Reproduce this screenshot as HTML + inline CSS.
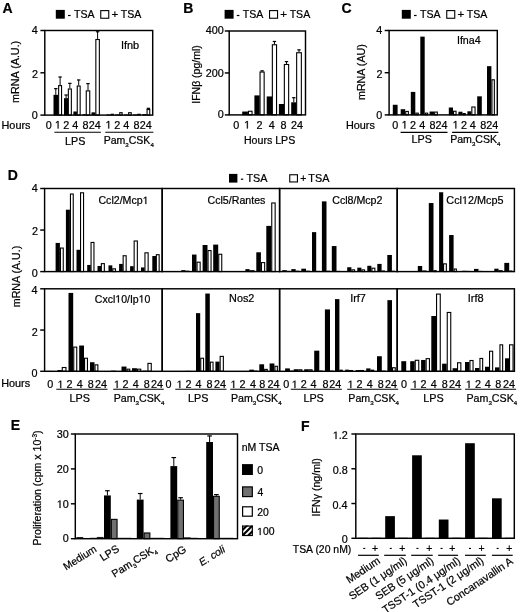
<!DOCTYPE html>
<html><head><meta charset="utf-8"><style>
html,body{margin:0;padding:0;background:#fff;width:520px;height:612px;overflow:hidden}
svg{display:block;will-change:transform}
text{font-family:"Liberation Sans",sans-serif;fill:#000;stroke:#000;stroke-width:0.22px}
</style></head><body>
<svg xmlns="http://www.w3.org/2000/svg" width="520" height="612" viewBox="0 0 520 612">
<rect x="0" y="0" width="520" height="612" fill="#fff"/>
<text x="2.6" y="12.6" font-size="14" text-anchor="start" font-weight="bold" font-style="normal">A</text>
<rect x="55.8" y="9.9" width="9" height="8.8" fill="#000"/>
<rect x="68" y="14.9" width="2.6" height="1.2" fill="#000"/>
<text x="73.96" y="18.2" font-size="10.57" text-anchor="start" font-weight="normal" font-style="normal">TSA</text>
<rect x="100.75" y="10.6" width="8" height="7.65" fill="#fff" stroke="#000" stroke-width="1.1"/>
<text x="111.54" y="18.2" font-size="11.53" text-anchor="start" font-weight="normal" font-style="normal">+</text>
<text x="120.86" y="18.2" font-size="10.57" text-anchor="start" font-weight="normal" font-style="normal">TSA</text>
<rect x="53.5" y="94.8" width="4.6" height="20.6" fill="#000"/>
<line x1="55.8" y1="94.8" x2="55.8" y2="88.45" stroke="#000" stroke-width="1"/>
<line x1="54.1" y1="88.65" x2="57.5" y2="88.65" stroke="#000" stroke-width="1.2"/>
<rect x="58.65" y="85.62" width="2.9" height="29.43" fill="#fff" stroke="#000" stroke-width="1.1"/>
<line x1="60.1" y1="85.07" x2="60.1" y2="76.82" stroke="#000" stroke-width="1"/>
<line x1="58.4" y1="77.02" x2="61.8" y2="77.02" stroke="#000" stroke-width="1.2"/>
<rect x="64" y="98.18" width="4.2" height="17.22" fill="#000"/>
<line x1="66.1" y1="98.18" x2="66.1" y2="94.8" stroke="#000" stroke-width="1"/>
<line x1="64.4" y1="95" x2="67.8" y2="95" stroke="#000" stroke-width="1.2"/>
<rect x="68.35" y="89" width="3" height="26.05" fill="#fff" stroke="#000" stroke-width="1.1"/>
<line x1="69.85" y1="88.45" x2="69.85" y2="83.16" stroke="#000" stroke-width="1"/>
<line x1="68.15" y1="83.36" x2="71.55" y2="83.36" stroke="#000" stroke-width="1.2"/>
<rect x="73.4" y="111.5" width="3.5" height="3.9" fill="#000"/>
<rect x="77.25" y="86.04" width="2.9" height="29.01" fill="#fff" stroke="#000" stroke-width="1.1"/>
<line x1="78.7" y1="85.49" x2="78.7" y2="79.78" stroke="#000" stroke-width="1"/>
<line x1="77" y1="79.98" x2="80.4" y2="79.98" stroke="#000" stroke-width="1.2"/>
<rect x="82.5" y="114.25" width="3.3" height="1.15" fill="#000"/>
<rect x="86.25" y="90.9" width="3.5" height="24.15" fill="#fff" stroke="#000" stroke-width="1.1"/>
<line x1="88" y1="90.35" x2="88" y2="83.38" stroke="#000" stroke-width="1"/>
<line x1="86.3" y1="83.58" x2="89.7" y2="83.58" stroke="#000" stroke-width="1.2"/>
<rect x="91.5" y="112.35" width="3.8" height="3.05" fill="#000"/>
<rect x="95.85" y="39.51" width="3.5" height="75.54" fill="#fff" stroke="#000" stroke-width="1.1"/>
<line x1="97.6" y1="38.96" x2="97.6" y2="31.56" stroke="#000" stroke-width="1"/>
<line x1="95.9" y1="31.76" x2="99.3" y2="31.76" stroke="#000" stroke-width="1.2"/>
<rect x="106.5" y="114.47" width="4.3" height="0.93" fill="#000"/>
<rect x="110.8" y="113.74" width="3.2" height="1.66" fill="#000"/>
<rect x="115.2" y="114.47" width="4" height="0.93" fill="#000"/>
<rect x="119.75" y="112.69" width="2.4" height="2.36" fill="#fff" stroke="#000" stroke-width="1.1"/>
<rect x="124" y="114.47" width="4.1" height="0.93" fill="#000"/>
<rect x="128.65" y="112.69" width="2.6" height="2.36" fill="#fff" stroke="#000" stroke-width="1.1"/>
<rect x="133" y="114.47" width="4.2" height="0.93" fill="#000"/>
<rect x="137.2" y="113.74" width="3.6" height="1.66" fill="#000"/>
<rect x="142.4" y="114.04" width="4.1" height="1.36" fill="#000"/>
<rect x="147.05" y="109.52" width="2.7" height="5.53" fill="#fff" stroke="#000" stroke-width="1.1"/>
<line x1="148.4" y1="108.97" x2="148.4" y2="108.12" stroke="#000" stroke-width="1"/>
<line x1="146.7" y1="108.32" x2="150.1" y2="108.32" stroke="#000" stroke-width="1.2"/>
<rect x="44.8" y="30.5" width="107.9" height="84.6" fill="none" stroke="#000" stroke-width="1.45"/>
<line x1="40.4" y1="30.5" x2="44.8" y2="30.5" stroke="#000" stroke-width="1.45"/>
<text x="31.71" y="34.08" font-size="10.8" text-anchor="start" font-weight="normal" font-style="normal">4</text>
<line x1="40.4" y1="72.8" x2="44.8" y2="72.8" stroke="#000" stroke-width="1.45"/>
<text x="31.94" y="77.78" font-size="10.8" text-anchor="start" font-weight="normal" font-style="normal">2</text>
<line x1="40.4" y1="115.1" x2="44.8" y2="115.1" stroke="#000" stroke-width="1.45"/>
<text x="31.82" y="118.78" font-size="10.8" text-anchor="start" font-weight="normal" font-style="normal">0</text>
<text x="19.5" y="102.91" font-size="10.76" transform="rotate(-90 19.5 102.91)">mRNA (A.U.)</text>
<text x="1.51" y="128.8" font-size="10.87" text-anchor="start" font-weight="normal" font-style="normal">Hours</text>
<text x="45.8" y="128.5" font-size="10.8" text-anchor="start" font-weight="normal" font-style="normal">0</text>
<path d="M57.61 128.5 L57.61 121.98 L55.93 123.17 L55.93 122.28 L57.69 121.07 L58.57 121.07 L58.57 128.5 Z" fill="#000" stroke="#000" stroke-width="0.22"/>
<text x="63.3" y="128.5" font-size="10.8" text-anchor="start" font-weight="normal" font-style="normal">2</text>
<text x="72.18" y="128.5" font-size="10.8" text-anchor="start" font-weight="normal" font-style="normal">4</text>
<text x="82.6" y="128.5" font-size="10.8" text-anchor="start" font-weight="normal" font-style="normal">8</text>
<text x="88.63" y="128.5" font-size="10.8" text-anchor="start" font-weight="normal" font-style="normal">24</text>
<path d="M108.26 128.5 L108.26 121.98 L106.58 123.17 L106.58 122.28 L108.34 121.07 L109.22 121.07 L109.22 128.5 Z" fill="#000" stroke="#000" stroke-width="0.22"/>
<text x="114.2" y="128.5" font-size="10.8" text-anchor="start" font-weight="normal" font-style="normal">2</text>
<text x="123.33" y="128.5" font-size="10.8" text-anchor="start" font-weight="normal" font-style="normal">4</text>
<text x="133.4" y="128.5" font-size="10.8" text-anchor="start" font-weight="normal" font-style="normal">8</text>
<text x="139.78" y="128.5" font-size="10.8" text-anchor="start" font-weight="normal" font-style="normal">24</text>
<line x1="54.4" y1="132.3" x2="100.9" y2="132.3" stroke="#000" stroke-width="1.1"/>
<line x1="105.3" y1="132.3" x2="153.4" y2="132.3" stroke="#000" stroke-width="1.1"/>
<text x="65.02" y="144.5" font-size="10.78" text-anchor="start" font-weight="normal" font-style="normal">LPS</text>
<text x="103.74" y="144.1" font-size="10.52" text-anchor="start"><tspan>Pam</tspan><tspan font-size="6.1" dy="2.9">3</tspan><tspan dy="-2.9">CSK</tspan><tspan font-size="6.1" dy="2.9">4</tspan></text>
<text x="120.89" y="49.3" font-size="10.95" text-anchor="start" font-weight="normal" font-style="normal">Ifnb</text>
<text x="183.2" y="12.6" font-size="14" text-anchor="start" font-weight="bold" font-style="normal">B</text>
<rect x="224.6" y="9.9" width="9" height="8.8" fill="#000"/>
<rect x="236.8" y="14.9" width="2.6" height="1.2" fill="#000"/>
<text x="242.76" y="18.2" font-size="10.57" text-anchor="start" font-weight="normal" font-style="normal">TSA</text>
<rect x="269.55" y="10.6" width="8" height="7.65" fill="#fff" stroke="#000" stroke-width="1.1"/>
<text x="280.34" y="18.2" font-size="11.53" text-anchor="start" font-weight="normal" font-style="normal">+</text>
<text x="289.66" y="18.2" font-size="10.57" text-anchor="start" font-weight="normal" font-style="normal">TSA</text>
<rect x="242.2" y="111.54" width="5.7" height="3.66" fill="#000"/>
<rect x="248.45" y="111.26" width="3.6" height="3.59" fill="#fff" stroke="#000" stroke-width="1.1"/>
<rect x="254.4" y="95.39" width="5.3" height="19.81" fill="#000"/>
<rect x="260.05" y="72.03" width="4.1" height="42.82" fill="#fff" stroke="#000" stroke-width="1.1"/>
<line x1="262.1" y1="71.48" x2="262.1" y2="70.64" stroke="#000" stroke-width="1"/>
<line x1="260.4" y1="70.84" x2="263.8" y2="70.84" stroke="#000" stroke-width="1.2"/>
<rect x="266.7" y="96.44" width="5.5" height="18.76" fill="#000"/>
<rect x="272.35" y="44.76" width="4.2" height="70.09" fill="#fff" stroke="#000" stroke-width="1.1"/>
<line x1="274.45" y1="44.21" x2="274.45" y2="41.28" stroke="#000" stroke-width="1"/>
<line x1="272.75" y1="41.48" x2="276.15" y2="41.48" stroke="#000" stroke-width="1.2"/>
<rect x="278.9" y="103.99" width="5.2" height="11.21" fill="#000"/>
<rect x="284.35" y="64.48" width="4.3" height="50.37" fill="#fff" stroke="#000" stroke-width="1.1"/>
<line x1="286.5" y1="63.93" x2="286.5" y2="61.41" stroke="#000" stroke-width="1"/>
<line x1="284.8" y1="61.61" x2="288.2" y2="61.61" stroke="#000" stroke-width="1.2"/>
<rect x="291.2" y="102.31" width="5.2" height="12.89" fill="#000"/>
<line x1="293.8" y1="102.31" x2="293.8" y2="97.49" stroke="#000" stroke-width="1"/>
<line x1="292.1" y1="97.69" x2="295.5" y2="97.69" stroke="#000" stroke-width="1.2"/>
<rect x="296.65" y="52.73" width="4.7" height="62.12" fill="#fff" stroke="#000" stroke-width="1.1"/>
<line x1="299" y1="52.18" x2="299" y2="49.67" stroke="#000" stroke-width="1"/>
<line x1="297.3" y1="49.87" x2="300.7" y2="49.87" stroke="#000" stroke-width="1.2"/>
<rect x="229.2" y="31" width="76.3" height="83.9" fill="none" stroke="#000" stroke-width="1.45"/>
<line x1="224.8" y1="31" x2="229.2" y2="31" stroke="#000" stroke-width="1.45"/>
<text x="205.8" y="34.08" font-size="10.8" text-anchor="start" font-weight="normal" font-style="normal">400</text>
<line x1="224.8" y1="72.95" x2="229.2" y2="72.95" stroke="#000" stroke-width="1.45"/>
<text x="205.8" y="77.08" font-size="10.8" text-anchor="start" font-weight="normal" font-style="normal">200</text>
<line x1="224.8" y1="114.9" x2="229.2" y2="114.9" stroke="#000" stroke-width="1.45"/>
<text x="217.82" y="118.48" font-size="10.8" text-anchor="start" font-weight="normal" font-style="normal">0</text>
<text x="200" y="103.77" font-size="10.5" transform="rotate(-90 200 103.77)">IFN&#946; (pg/ml)</text>
<text x="233.2" y="128.5" font-size="10.8" text-anchor="start" font-weight="normal" font-style="normal">0</text>
<path d="M246.86 128.5 L246.86 121.98 L245.18 123.17 L245.18 122.28 L246.94 121.07 L247.82 121.07 L247.82 128.5 Z" fill="#000" stroke="#000" stroke-width="0.22"/>
<text x="256.4" y="128.5" font-size="10.8" text-anchor="start" font-weight="normal" font-style="normal">2</text>
<text x="268.73" y="128.5" font-size="10.8" text-anchor="start" font-weight="normal" font-style="normal">4</text>
<text x="280.6" y="128.5" font-size="10.8" text-anchor="start" font-weight="normal" font-style="normal">8</text>
<text x="290.98" y="128.5" font-size="10.8" text-anchor="start" font-weight="normal" font-style="normal">24</text>
<text x="243.93" y="143.5" font-size="10.62" text-anchor="start" font-weight="normal" font-style="normal">Hours LPS</text>
<text x="341.6" y="12.6" font-size="14" text-anchor="start" font-weight="bold" font-style="normal">C</text>
<rect x="401.8" y="9.9" width="9" height="8.8" fill="#000"/>
<rect x="414" y="14.9" width="2.6" height="1.2" fill="#000"/>
<text x="419.96" y="18.2" font-size="10.57" text-anchor="start" font-weight="normal" font-style="normal">TSA</text>
<rect x="446.75" y="10.6" width="8" height="7.65" fill="#fff" stroke="#000" stroke-width="1.1"/>
<text x="457.54" y="18.2" font-size="11.53" text-anchor="start" font-weight="normal" font-style="normal">+</text>
<text x="466.86" y="18.2" font-size="10.57" text-anchor="start" font-weight="normal" font-style="normal">TSA</text>
<rect x="392.8" y="104.77" width="4.8" height="10.43" fill="#000"/>
<rect x="400.7" y="109.2" width="4.5" height="6" fill="#000"/>
<rect x="405.75" y="111.44" width="2.6" height="3.41" fill="#fff" stroke="#000" stroke-width="1.1"/>
<rect x="410.8" y="91.9" width="4.5" height="23.3" fill="#000"/>
<rect x="415.85" y="113.13" width="2.4" height="1.72" fill="#fff" stroke="#000" stroke-width="1.1"/>
<rect x="420.3" y="36.62" width="4.4" height="78.58" fill="#000"/>
<rect x="425.25" y="113.13" width="2.4" height="1.72" fill="#fff" stroke="#000" stroke-width="1.1"/>
<rect x="429.6" y="111.52" width="4.5" height="3.68" fill="#000"/>
<rect x="434.65" y="112.07" width="2.7" height="2.78" fill="#fff" stroke="#000" stroke-width="1.1"/>
<rect x="448.8" y="107.52" width="4.2" height="7.69" fill="#000"/>
<rect x="453.55" y="111.23" width="2.5" height="3.62" fill="#fff" stroke="#000" stroke-width="1.1"/>
<rect x="458.4" y="111.73" width="4.1" height="3.47" fill="#000"/>
<rect x="463.05" y="113.55" width="2.2" height="1.3" fill="#fff" stroke="#000" stroke-width="1.1"/>
<rect x="467.4" y="111.31" width="3.9" height="3.89" fill="#000"/>
<rect x="471.85" y="107.01" width="3.2" height="7.84" fill="#fff" stroke="#000" stroke-width="1.1"/>
<rect x="477.2" y="96.33" width="4.6" height="18.87" fill="#000"/>
<rect x="487" y="66.16" width="4.4" height="49.04" fill="#000"/>
<rect x="491.95" y="79.79" width="2.4" height="35.06" fill="#fff" stroke="#000" stroke-width="1.1"/>
<rect x="389.1" y="30.5" width="108.2" height="84.4" fill="none" stroke="#000" stroke-width="1.45"/>
<line x1="384.7" y1="30.5" x2="389.1" y2="30.5" stroke="#000" stroke-width="1.45"/>
<text x="376.21" y="34.08" font-size="10.8" text-anchor="start" font-weight="normal" font-style="normal">4</text>
<line x1="384.7" y1="72.7" x2="389.1" y2="72.7" stroke="#000" stroke-width="1.45"/>
<text x="376.44" y="77.58" font-size="10.8" text-anchor="start" font-weight="normal" font-style="normal">2</text>
<line x1="384.7" y1="114.9" x2="389.1" y2="114.9" stroke="#000" stroke-width="1.45"/>
<text x="376.32" y="118.58" font-size="10.8" text-anchor="start" font-weight="normal" font-style="normal">0</text>
<text x="365" y="100.01" font-size="10.7" transform="rotate(-90 365 100.01)">mRNA (AU)</text>
<text x="345.91" y="128.8" font-size="10.87" text-anchor="start" font-weight="normal" font-style="normal">Hours</text>
<text x="392.15" y="128.5" font-size="10.8" text-anchor="start" font-weight="normal" font-style="normal">0</text>
<path d="M404.36 128.5 L404.36 121.98 L402.68 123.17 L402.68 122.28 L404.44 121.07 L405.32 121.07 L405.32 128.5 Z" fill="#000" stroke="#000" stroke-width="0.22"/>
<text x="410.1" y="128.5" font-size="10.8" text-anchor="start" font-weight="normal" font-style="normal">2</text>
<text x="419.23" y="128.5" font-size="10.8" text-anchor="start" font-weight="normal" font-style="normal">4</text>
<text x="429.4" y="128.5" font-size="10.8" text-anchor="start" font-weight="normal" font-style="normal">8</text>
<text x="435.53" y="128.5" font-size="10.8" text-anchor="start" font-weight="normal" font-style="normal">24</text>
<path d="M455.36 128.5 L455.36 121.98 L453.68 123.17 L453.68 122.28 L455.44 121.07 L456.32 121.07 L456.32 128.5 Z" fill="#000" stroke="#000" stroke-width="0.22"/>
<text x="460.9" y="128.5" font-size="10.8" text-anchor="start" font-weight="normal" font-style="normal">2</text>
<text x="469.73" y="128.5" font-size="10.8" text-anchor="start" font-weight="normal" font-style="normal">4</text>
<text x="480.2" y="128.5" font-size="10.8" text-anchor="start" font-weight="normal" font-style="normal">8</text>
<text x="486.18" y="128.5" font-size="10.8" text-anchor="start" font-weight="normal" font-style="normal">24</text>
<line x1="400.6" y1="132.4" x2="447.5" y2="132.4" stroke="#000" stroke-width="1.1"/>
<line x1="452.1" y1="132.4" x2="498.4" y2="132.4" stroke="#000" stroke-width="1.1"/>
<text x="411.62" y="143.2" font-size="10.78" text-anchor="start" font-weight="normal" font-style="normal">LPS</text>
<text x="450.13" y="143.3" font-size="10.58" text-anchor="start"><tspan>Pam</tspan><tspan font-size="6.14" dy="2.9">3</tspan><tspan dy="-2.9">CSK</tspan><tspan font-size="6.14" dy="2.9">4</tspan></text>
<text x="456.91" y="44.1" font-size="10.7" text-anchor="start" font-weight="normal" font-style="normal">Ifna4</text>
<text x="7.7" y="179.7" font-size="14" text-anchor="start" font-weight="bold" font-style="normal">D</text>
<rect x="229" y="173.9" width="8.4" height="8.7" fill="#000"/>
<rect x="240.9" y="178.6" width="2.3" height="1.2" fill="#000"/>
<text x="246.46" y="181.9" font-size="10.83" text-anchor="start" font-weight="normal" font-style="normal">TSA</text>
<rect x="289.75" y="174.75" width="7.7" height="7.2" fill="#fff" stroke="#000" stroke-width="1.1"/>
<text x="300.29" y="181.9" font-size="10.5" text-anchor="start" font-weight="normal" font-style="normal">+</text>
<text x="308.36" y="181.9" font-size="10.83" text-anchor="start" font-weight="normal" font-style="normal">TSA</text>
<rect x="55.6" y="242.93" width="4.3" height="28.97" fill="#000"/>
<rect x="60.45" y="248.05" width="2.8" height="23.5" fill="#fff" stroke="#000" stroke-width="1.1"/>
<rect x="65.9" y="209.69" width="4" height="62.21" fill="#000"/>
<rect x="70.45" y="194.04" width="2.8" height="77.51" fill="#fff" stroke="#000" stroke-width="1.1"/>
<rect x="76.5" y="249.79" width="3.7" height="22.11" fill="#000"/>
<rect x="80.55" y="192.79" width="3" height="78.76" fill="#fff" stroke="#000" stroke-width="1.1"/>
<rect x="87.2" y="264.95" width="3.6" height="6.95" fill="#000"/>
<rect x="91.05" y="242.44" width="2.9" height="29.11" fill="#fff" stroke="#000" stroke-width="1.1"/>
<rect x="97.5" y="265.99" width="3.5" height="5.91" fill="#000"/>
<rect x="101.35" y="263.63" width="3" height="7.92" fill="#fff" stroke="#000" stroke-width="1.1"/>
<rect x="108.5" y="265.37" width="3.8" height="6.53" fill="#000"/>
<rect x="112.75" y="268.83" width="2.7" height="2.72" fill="#fff" stroke="#000" stroke-width="1.1"/>
<rect x="119.1" y="263.91" width="3.7" height="7.99" fill="#000"/>
<rect x="123.15" y="255.74" width="3" height="15.81" fill="#fff" stroke="#000" stroke-width="1.1"/>
<rect x="130.1" y="266.2" width="3.6" height="5.7" fill="#000"/>
<rect x="134.15" y="240.99" width="3.2" height="30.56" fill="#fff" stroke="#000" stroke-width="1.1"/>
<rect x="141" y="267.45" width="3.6" height="4.45" fill="#000"/>
<rect x="144.95" y="252.83" width="3.2" height="18.72" fill="#fff" stroke="#000" stroke-width="1.1"/>
<rect x="152.3" y="256.02" width="3.7" height="15.88" fill="#000"/>
<rect x="156.35" y="254.7" width="2.8" height="16.85" fill="#fff" stroke="#000" stroke-width="1.1"/>
<rect x="44.6" y="188.5" width="117.6" height="83.1" fill="none" stroke="#000" stroke-width="1.45"/>
<rect x="181.2" y="270.15" width="4.3" height="1.75" fill="#000"/>
<rect x="185.5" y="270.68" width="3.9" height="1.22" fill="#000"/>
<rect x="192" y="254.56" width="4.5" height="17.34" fill="#000"/>
<rect x="197.05" y="262.18" width="3.1" height="9.37" fill="#fff" stroke="#000" stroke-width="1.1"/>
<rect x="202.6" y="245.01" width="4.9" height="26.89" fill="#000"/>
<rect x="208.05" y="250.54" width="3" height="21.01" fill="#fff" stroke="#000" stroke-width="1.1"/>
<rect x="213.2" y="244.59" width="5" height="27.31" fill="#000"/>
<rect x="218.75" y="254.28" width="3" height="17.27" fill="#fff" stroke="#000" stroke-width="1.1"/>
<rect x="245.4" y="269.11" width="4.2" height="2.79" fill="#000"/>
<rect x="250.15" y="270.7" width="3.8" height="0.85" fill="#fff" stroke="#000" stroke-width="1.1"/>
<rect x="256.3" y="252.28" width="4.6" height="19.62" fill="#000"/>
<rect x="261.45" y="262.59" width="3.2" height="8.96" fill="#fff" stroke="#000" stroke-width="1.1"/>
<rect x="266.3" y="225.9" width="4.9" height="46.01" fill="#000"/>
<rect x="271.75" y="202.97" width="3.4" height="68.58" fill="#fff" stroke="#000" stroke-width="1.1"/>
<rect x="162.2" y="188.5" width="117.4" height="83.1" fill="none" stroke="#000" stroke-width="1.45"/>
<rect x="282.2" y="270.15" width="4.6" height="1.75" fill="#000"/>
<rect x="286.8" y="270.88" width="3.7" height="1.02" fill="#000"/>
<rect x="291.3" y="269.11" width="4.4" height="2.79" fill="#000"/>
<rect x="295.7" y="270.68" width="3.8" height="1.22" fill="#000"/>
<rect x="301.3" y="268.69" width="4.7" height="3.21" fill="#000"/>
<rect x="306" y="270.68" width="3.8" height="1.22" fill="#000"/>
<rect x="312" y="232.13" width="4.2" height="39.77" fill="#000"/>
<rect x="316.2" y="270.88" width="3.8" height="1.02" fill="#000"/>
<rect x="321.9" y="201.38" width="4.6" height="70.52" fill="#000"/>
<rect x="326.5" y="270.68" width="3.7" height="1.22" fill="#000"/>
<rect x="331.8" y="246.05" width="4.7" height="25.85" fill="#000"/>
<rect x="336.5" y="270.88" width="3.7" height="1.02" fill="#000"/>
<rect x="347.2" y="267.24" width="4.2" height="4.66" fill="#000"/>
<rect x="351.95" y="269.86" width="2.6" height="1.69" fill="#fff" stroke="#000" stroke-width="1.1"/>
<rect x="357.3" y="267.65" width="4.1" height="4.25" fill="#000"/>
<rect x="361.95" y="269.86" width="2.6" height="1.69" fill="#fff" stroke="#000" stroke-width="1.1"/>
<rect x="367.3" y="265.78" width="4.1" height="6.12" fill="#000"/>
<rect x="371.95" y="268.2" width="2.9" height="3.35" fill="#fff" stroke="#000" stroke-width="1.1"/>
<rect x="377.3" y="263.91" width="4.3" height="7.99" fill="#000"/>
<rect x="381.6" y="270.47" width="3.4" height="1.43" fill="#000"/>
<rect x="387.3" y="254.98" width="4.6" height="16.92" fill="#000"/>
<rect x="391.9" y="270.68" width="3.1" height="1.22" fill="#000"/>
<rect x="279.6" y="188.5" width="117.6" height="83.1" fill="none" stroke="#000" stroke-width="1.45"/>
<rect x="417.8" y="265.99" width="4.4" height="5.91" fill="#000"/>
<rect x="422.2" y="270.47" width="4.4" height="1.43" fill="#000"/>
<rect x="428.8" y="203.04" width="4.7" height="68.86" fill="#000"/>
<rect x="434.05" y="270.7" width="2.1" height="0.85" fill="#fff" stroke="#000" stroke-width="1.1"/>
<rect x="439.1" y="192.24" width="4.1" height="79.66" fill="#000"/>
<rect x="443.55" y="263.84" width="2.8" height="7.71" fill="#fff" stroke="#000" stroke-width="1.1"/>
<rect x="449.1" y="235.04" width="4.5" height="36.86" fill="#000"/>
<rect x="454.15" y="269.03" width="2.2" height="2.52" fill="#fff" stroke="#000" stroke-width="1.1"/>
<rect x="462.2" y="270.77" width="4.2" height="1.13" fill="#000"/>
<rect x="466.4" y="270.88" width="3.6" height="1.02" fill="#000"/>
<rect x="474" y="268.9" width="4.5" height="3" fill="#000"/>
<rect x="478.5" y="270.88" width="3.7" height="1.02" fill="#000"/>
<rect x="483.9" y="271.18" width="4.1" height="0.72" fill="#000"/>
<rect x="488" y="271.09" width="4" height="0.81" fill="#000"/>
<rect x="494.3" y="268.69" width="4.3" height="3.21" fill="#000"/>
<rect x="499.15" y="270.7" width="3" height="0.85" fill="#fff" stroke="#000" stroke-width="1.1"/>
<rect x="504.3" y="262.87" width="4.9" height="9.03" fill="#000"/>
<rect x="509.2" y="270.47" width="3.3" height="1.43" fill="#000"/>
<rect x="397.2" y="188.5" width="117.2" height="83.1" fill="none" stroke="#000" stroke-width="1.45"/>
<rect x="45.6" y="370.9" width="7.1" height="0.7" fill="#000"/>
<rect x="57.5" y="370.06" width="4.2" height="1.54" fill="#000"/>
<rect x="62.25" y="367.52" width="3.7" height="3.73" fill="#fff" stroke="#000" stroke-width="1.1"/>
<rect x="68.5" y="292.93" width="4.7" height="78.68" fill="#000"/>
<rect x="73.75" y="347.1" width="3" height="24.15" fill="#fff" stroke="#000" stroke-width="1.1"/>
<rect x="79.2" y="345.52" width="4.8" height="26.08" fill="#000"/>
<rect x="84.55" y="358.24" width="2.9" height="13.01" fill="#fff" stroke="#000" stroke-width="1.1"/>
<rect x="90" y="362.23" width="4.5" height="9.38" fill="#000"/>
<rect x="95.05" y="364.84" width="2.8" height="6.41" fill="#fff" stroke="#000" stroke-width="1.1"/>
<rect x="111" y="370.68" width="5" height="0.92" fill="#000"/>
<rect x="121.5" y="366.56" width="5" height="5.04" fill="#000"/>
<rect x="127.05" y="369.17" width="2.7" height="2.08" fill="#fff" stroke="#000" stroke-width="1.1"/>
<rect x="132" y="368.21" width="4.9" height="3.39" fill="#000"/>
<rect x="137.45" y="369.17" width="3.3" height="2.08" fill="#fff" stroke="#000" stroke-width="1.1"/>
<rect x="142.5" y="370.68" width="4.5" height="0.92" fill="#000"/>
<rect x="147.95" y="363.39" width="3.3" height="7.86" fill="#fff" stroke="#000" stroke-width="1.1"/>
<rect x="44.6" y="288.8" width="117.6" height="82.5" fill="none" stroke="#000" stroke-width="1.45"/>
<rect x="185.2" y="370.89" width="5.3" height="0.71" fill="#000"/>
<rect x="196" y="313.14" width="4.2" height="58.46" fill="#000"/>
<rect x="200.75" y="358.24" width="2.8" height="13.01" fill="#fff" stroke="#000" stroke-width="1.1"/>
<rect x="205.3" y="293.54" width="4.5" height="78.06" fill="#000"/>
<rect x="210.35" y="362.16" width="2.7" height="9.09" fill="#fff" stroke="#000" stroke-width="1.1"/>
<rect x="215.4" y="361.61" width="4.2" height="9.99" fill="#000"/>
<rect x="220.15" y="356.38" width="3.2" height="14.87" fill="#fff" stroke="#000" stroke-width="1.1"/>
<rect x="249.3" y="369.65" width="4.6" height="1.95" fill="#000"/>
<rect x="253.9" y="370.59" width="3.5" height="1.01" fill="#000"/>
<rect x="259.3" y="364.29" width="4.8" height="7.31" fill="#000"/>
<rect x="264.65" y="369.38" width="2.6" height="1.88" fill="#fff" stroke="#000" stroke-width="1.1"/>
<rect x="269.6" y="363.46" width="4.8" height="8.14" fill="#000"/>
<rect x="274.95" y="366.28" width="2.4" height="4.97" fill="#fff" stroke="#000" stroke-width="1.1"/>
<rect x="162.2" y="288.8" width="117.4" height="82.5" fill="none" stroke="#000" stroke-width="1.45"/>
<rect x="285.1" y="368.41" width="4.8" height="3.19" fill="#000"/>
<rect x="289.9" y="370.59" width="3.6" height="1.01" fill="#000"/>
<rect x="293.7" y="369.24" width="4.5" height="2.36" fill="#000"/>
<rect x="298.75" y="369.79" width="3.1" height="1.46" fill="#fff" stroke="#000" stroke-width="1.1"/>
<rect x="304.2" y="369.24" width="4" height="2.36" fill="#000"/>
<rect x="308.75" y="369.79" width="3.3" height="1.46" fill="#fff" stroke="#000" stroke-width="1.1"/>
<rect x="314.2" y="350.68" width="5.1" height="20.93" fill="#000"/>
<rect x="319.3" y="370.59" width="3.5" height="1.01" fill="#000"/>
<rect x="324.9" y="309.43" width="5.1" height="62.18" fill="#000"/>
<rect x="330" y="370.59" width="3.5" height="1.01" fill="#000"/>
<rect x="335" y="299.11" width="4.4" height="72.49" fill="#000"/>
<rect x="339.95" y="370.2" width="2.3" height="1.05" fill="#fff" stroke="#000" stroke-width="1.1"/>
<rect x="345.2" y="369.65" width="3.7" height="1.95" fill="#000"/>
<rect x="348.9" y="369.97" width="4.1" height="1.63" fill="#000"/>
<rect x="355.7" y="370.06" width="4.3" height="1.54" fill="#000"/>
<rect x="360" y="369.97" width="4" height="1.63" fill="#000"/>
<rect x="366.2" y="368.41" width="4.3" height="3.19" fill="#000"/>
<rect x="371.05" y="370.2" width="2.6" height="1.05" fill="#fff" stroke="#000" stroke-width="1.1"/>
<rect x="377" y="356.24" width="4.8" height="15.36" fill="#000"/>
<rect x="381.8" y="370.59" width="3.7" height="1.01" fill="#000"/>
<rect x="387.4" y="300.14" width="4.6" height="71.46" fill="#000"/>
<rect x="392.55" y="367.73" width="2.7" height="3.52" fill="#fff" stroke="#000" stroke-width="1.1"/>
<rect x="279.6" y="288.8" width="117.6" height="82.5" fill="none" stroke="#000" stroke-width="1.45"/>
<rect x="401.3" y="361.19" width="4.9" height="10.41" fill="#000"/>
<rect x="410.2" y="361.19" width="4.5" height="10.41" fill="#000"/>
<rect x="415.25" y="360.3" width="3.5" height="10.95" fill="#fff" stroke="#000" stroke-width="1.1"/>
<rect x="421.1" y="359.96" width="4.5" height="11.64" fill="#000"/>
<rect x="426.15" y="358.65" width="3.3" height="12.6" fill="#fff" stroke="#000" stroke-width="1.1"/>
<rect x="431.3" y="316.02" width="4.7" height="55.58" fill="#000"/>
<rect x="436.55" y="294.09" width="3.7" height="77.16" fill="#fff" stroke="#000" stroke-width="1.1"/>
<rect x="442.1" y="363.67" width="4.6" height="7.93" fill="#000"/>
<rect x="447.25" y="312.45" width="3.5" height="58.8" fill="#fff" stroke="#000" stroke-width="1.1"/>
<rect x="452.6" y="368.21" width="4.4" height="3.39" fill="#000"/>
<rect x="457.55" y="362.78" width="3.3" height="8.47" fill="#fff" stroke="#000" stroke-width="1.1"/>
<rect x="465" y="362.02" width="4.4" height="9.58" fill="#000"/>
<rect x="469.95" y="360.51" width="3.1" height="10.74" fill="#fff" stroke="#000" stroke-width="1.1"/>
<rect x="475" y="368" width="4.4" height="3.6" fill="#000"/>
<rect x="479.95" y="358.44" width="2.7" height="12.81" fill="#fff" stroke="#000" stroke-width="1.1"/>
<rect x="485" y="366.76" width="4" height="4.84" fill="#000"/>
<rect x="489.55" y="351.23" width="3.1" height="20.02" fill="#fff" stroke="#000" stroke-width="1.1"/>
<rect x="495" y="367.38" width="4.4" height="4.22" fill="#000"/>
<rect x="499.95" y="344.83" width="2.7" height="26.42" fill="#fff" stroke="#000" stroke-width="1.1"/>
<rect x="505" y="358.31" width="4" height="13.29" fill="#000"/>
<rect x="509.55" y="344.83" width="3.5" height="26.42" fill="#fff" stroke="#000" stroke-width="1.1"/>
<rect x="397.2" y="288.8" width="117.2" height="82.5" fill="none" stroke="#000" stroke-width="1.45"/>
<text x="98.46" y="204.1" font-size="10.61" text-anchor="start" font-weight="normal" font-style="normal">Ccl2/Mcp</text>
<path d="M145.36 204.1 L145.36 197.69 L143.71 198.87 L143.71 197.98 L145.44 196.8 L146.3 196.8 L146.3 204.1 Z" fill="#000" stroke="#000" stroke-width="0.22"/>
<text x="207.56" y="203.9" font-size="10.62" text-anchor="start" font-weight="normal" font-style="normal">Ccl5/Rantes</text>
<text x="332.21" y="203.9" font-size="10.63" text-anchor="start" font-weight="normal" font-style="normal">Ccl8/Mcp2</text>
<text x="446.35" y="203.9" font-size="10.83" text-anchor="start" font-weight="normal" font-style="normal">Ccl</text>
<path d="M464.72 203.9 L464.72 197.36 L463.04 198.56 L463.04 197.66 L464.8 196.45 L465.68 196.45 L465.68 203.9 Z" fill="#000" stroke="#000" stroke-width="0.22"/>
<text x="468.02" y="203.9" font-size="10.83" text-anchor="start" font-weight="normal" font-style="normal">2/Mcp5</text>
<text x="94.87" y="302.6" font-size="10.52" text-anchor="start" font-weight="normal" font-style="normal">Cxcl</text>
<path d="M117.96 302.6 L117.96 296.25 L116.33 297.41 L116.33 296.54 L118.04 295.36 L118.89 295.36 L118.89 302.6 Z" fill="#000" stroke="#000" stroke-width="0.22"/>
<text x="121.17" y="302.6" font-size="10.52" text-anchor="start" font-weight="normal" font-style="normal">0/Ip</text>
<path d="M141.36 302.6 L141.36 296.25 L139.72 297.41 L139.72 296.54 L141.43 295.36 L142.29 295.36 L142.29 302.6 Z" fill="#000" stroke="#000" stroke-width="0.22"/>
<text x="144.56" y="302.6" font-size="10.52" text-anchor="start" font-weight="normal" font-style="normal">0</text>
<text x="229.11" y="302.4" font-size="10.81" text-anchor="start" font-weight="normal" font-style="normal">Nos2</text>
<text x="350.19" y="302.4" font-size="10.9" text-anchor="start" font-weight="normal" font-style="normal">Irf7</text>
<text x="467.68" y="302.4" font-size="11" text-anchor="start" font-weight="normal" font-style="normal">Irf8</text>
<line x1="40.2" y1="188.5" x2="44.6" y2="188.5" stroke="#000" stroke-width="1.45"/>
<text x="31.71" y="192.23" font-size="10.8" text-anchor="start" font-weight="normal" font-style="normal">4</text>
<line x1="40.2" y1="230.05" x2="44.6" y2="230.05" stroke="#000" stroke-width="1.45"/>
<text x="31.94" y="234.88" font-size="10.8" text-anchor="start" font-weight="normal" font-style="normal">2</text>
<line x1="40.2" y1="271.6" x2="44.6" y2="271.6" stroke="#000" stroke-width="1.45"/>
<text x="31.82" y="276.98" font-size="10.8" text-anchor="start" font-weight="normal" font-style="normal">0</text>
<line x1="40.2" y1="288.8" x2="44.6" y2="288.8" stroke="#000" stroke-width="1.45"/>
<text x="31.41" y="293.88" font-size="10.8" text-anchor="start" font-weight="normal" font-style="normal">4</text>
<line x1="40.2" y1="330.05" x2="44.6" y2="330.05" stroke="#000" stroke-width="1.45"/>
<text x="31.64" y="335.78" font-size="10.8" text-anchor="start" font-weight="normal" font-style="normal">2</text>
<line x1="40.2" y1="371.3" x2="44.6" y2="371.3" stroke="#000" stroke-width="1.45"/>
<text x="31.52" y="377.48" font-size="10.8" text-anchor="start" font-weight="normal" font-style="normal">0</text>
<text x="20.2" y="307.21" font-size="10.64" transform="rotate(-90 20.2 307.21)">mRNA (A.U.)</text>
<text x="1.21" y="386.8" font-size="10.87" text-anchor="start" font-weight="normal" font-style="normal">Hours</text>
<text x="47.2" y="388.1" font-size="10.8" text-anchor="start" font-weight="normal" font-style="normal">0</text>
<path d="M60.26 388.1 L60.26 381.58 L58.58 382.77 L58.58 381.88 L60.34 380.67 L61.22 380.67 L61.22 388.1 Z" fill="#000" stroke="#000" stroke-width="0.22"/>
<text x="66.6" y="388.1" font-size="10.8" text-anchor="start" font-weight="normal" font-style="normal">2</text>
<text x="76.63" y="388.1" font-size="10.8" text-anchor="start" font-weight="normal" font-style="normal">4</text>
<text x="87.7" y="388.1" font-size="10.8" text-anchor="start" font-weight="normal" font-style="normal">8</text>
<text x="94.88" y="388.1" font-size="10.8" text-anchor="start" font-weight="normal" font-style="normal">24</text>
<path d="M116.66 388.1 L116.66 381.58 L114.98 382.77 L114.98 381.88 L116.74 380.67 L117.62 380.67 L117.62 388.1 Z" fill="#000" stroke="#000" stroke-width="0.22"/>
<text x="122.5" y="388.1" font-size="10.8" text-anchor="start" font-weight="normal" font-style="normal">2</text>
<text x="132.73" y="388.1" font-size="10.8" text-anchor="start" font-weight="normal" font-style="normal">4</text>
<text x="143.7" y="388.1" font-size="10.8" text-anchor="start" font-weight="normal" font-style="normal">8</text>
<text x="150.88" y="388.1" font-size="10.8" text-anchor="start" font-weight="normal" font-style="normal">24</text>
<text x="165.4" y="388.1" font-size="10.8" text-anchor="start" font-weight="normal" font-style="normal">0</text>
<path d="M179.36 388.1 L179.36 381.58 L177.68 382.77 L177.68 381.88 L179.44 380.67 L180.32 380.67 L180.32 388.1 Z" fill="#000" stroke="#000" stroke-width="0.22"/>
<text x="185.6" y="388.1" font-size="10.8" text-anchor="start" font-weight="normal" font-style="normal">2</text>
<text x="195.43" y="388.1" font-size="10.8" text-anchor="start" font-weight="normal" font-style="normal">4</text>
<text x="206.6" y="388.1" font-size="10.8" text-anchor="start" font-weight="normal" font-style="normal">8</text>
<text x="213.88" y="388.1" font-size="10.8" text-anchor="start" font-weight="normal" font-style="normal">24</text>
<path d="M233.26 388.1 L233.26 381.58 L231.58 382.77 L231.58 381.88 L233.34 380.67 L234.22 380.67 L234.22 388.1 Z" fill="#000" stroke="#000" stroke-width="0.22"/>
<text x="239.5" y="388.1" font-size="10.8" text-anchor="start" font-weight="normal" font-style="normal">2</text>
<text x="250.03" y="388.1" font-size="10.8" text-anchor="start" font-weight="normal" font-style="normal">4</text>
<text x="259.3" y="388.1" font-size="10.8" text-anchor="start" font-weight="normal" font-style="normal">8</text>
<text x="267.38" y="388.1" font-size="10.8" text-anchor="start" font-weight="normal" font-style="normal">24</text>
<text x="283.2" y="388.1" font-size="10.8" text-anchor="start" font-weight="normal" font-style="normal">0</text>
<path d="M294.46 388.1 L294.46 381.58 L292.78 382.77 L292.78 381.88 L294.54 380.67 L295.42 380.67 L295.42 388.1 Z" fill="#000" stroke="#000" stroke-width="0.22"/>
<text x="300.7" y="388.1" font-size="10.8" text-anchor="start" font-weight="normal" font-style="normal">2</text>
<text x="310.53" y="388.1" font-size="10.8" text-anchor="start" font-weight="normal" font-style="normal">4</text>
<text x="322.4" y="388.1" font-size="10.8" text-anchor="start" font-weight="normal" font-style="normal">8</text>
<text x="329.18" y="388.1" font-size="10.8" text-anchor="start" font-weight="normal" font-style="normal">24</text>
<path d="M350.36 388.1 L350.36 381.58 L348.68 382.77 L348.68 381.88 L350.44 380.67 L351.32 380.67 L351.32 388.1 Z" fill="#000" stroke="#000" stroke-width="0.22"/>
<text x="356.5" y="388.1" font-size="10.8" text-anchor="start" font-weight="normal" font-style="normal">2</text>
<text x="366.73" y="388.1" font-size="10.8" text-anchor="start" font-weight="normal" font-style="normal">4</text>
<text x="377.7" y="388.1" font-size="10.8" text-anchor="start" font-weight="normal" font-style="normal">8</text>
<text x="384.88" y="388.1" font-size="10.8" text-anchor="start" font-weight="normal" font-style="normal">24</text>
<text x="400.9" y="388.1" font-size="10.8" text-anchor="start" font-weight="normal" font-style="normal">0</text>
<path d="M414.56 388.1 L414.56 381.58 L412.88 382.77 L412.88 381.88 L414.64 380.67 L415.52 380.67 L415.52 388.1 Z" fill="#000" stroke="#000" stroke-width="0.22"/>
<text x="420.6" y="388.1" font-size="10.8" text-anchor="start" font-weight="normal" font-style="normal">2</text>
<text x="430.83" y="388.1" font-size="10.8" text-anchor="start" font-weight="normal" font-style="normal">4</text>
<text x="441.7" y="388.1" font-size="10.8" text-anchor="start" font-weight="normal" font-style="normal">8</text>
<text x="448.88" y="388.1" font-size="10.8" text-anchor="start" font-weight="normal" font-style="normal">24</text>
<path d="M468.56 388.1 L468.56 381.58 L466.88 382.77 L466.88 381.88 L468.64 380.67 L469.52 380.67 L469.52 388.1 Z" fill="#000" stroke="#000" stroke-width="0.22"/>
<text x="474.9" y="388.1" font-size="10.8" text-anchor="start" font-weight="normal" font-style="normal">2</text>
<text x="484.83" y="388.1" font-size="10.8" text-anchor="start" font-weight="normal" font-style="normal">4</text>
<text x="495.2" y="388.1" font-size="10.8" text-anchor="start" font-weight="normal" font-style="normal">8</text>
<text x="502.88" y="388.1" font-size="10.8" text-anchor="start" font-weight="normal" font-style="normal">24</text>
<line x1="56.3" y1="389.3" x2="107.5" y2="389.3" stroke="#000" stroke-width="1.1"/>
<line x1="113.2" y1="389.3" x2="163.8" y2="389.3" stroke="#000" stroke-width="1.1"/>
<line x1="175.3" y1="389.3" x2="226.5" y2="389.3" stroke="#000" stroke-width="1.1"/>
<line x1="230.2" y1="389.3" x2="280.9" y2="389.3" stroke="#000" stroke-width="1.1"/>
<line x1="290.8" y1="389.3" x2="341.8" y2="389.3" stroke="#000" stroke-width="1.1"/>
<line x1="347.2" y1="389.3" x2="398.2" y2="389.3" stroke="#000" stroke-width="1.1"/>
<line x1="410.5" y1="389.3" x2="461.4" y2="389.3" stroke="#000" stroke-width="1.1"/>
<line x1="465.1" y1="389.3" x2="516.1" y2="389.3" stroke="#000" stroke-width="1.1"/>
<text x="69.5" y="402" font-size="10.8" text-anchor="start" font-weight="normal" font-style="normal">LPS</text>
<text x="187.95" y="402" font-size="10.8" text-anchor="start" font-weight="normal" font-style="normal">LPS</text>
<text x="303.4" y="402" font-size="10.8" text-anchor="start" font-weight="normal" font-style="normal">LPS</text>
<text x="423.2" y="402" font-size="10.8" text-anchor="start" font-weight="normal" font-style="normal">LPS</text>
<text x="113.73" y="402" font-size="10.65" text-anchor="start"><tspan>Pam</tspan><tspan font-size="6.18" dy="2.9">3</tspan><tspan dy="-2.9">CSK</tspan><tspan font-size="6.18" dy="2.9">4</tspan></text>
<text x="230.93" y="402" font-size="10.65" text-anchor="start"><tspan>Pam</tspan><tspan font-size="6.18" dy="2.9">3</tspan><tspan dy="-2.9">CSK</tspan><tspan font-size="6.18" dy="2.9">4</tspan></text>
<text x="348.33" y="402" font-size="10.65" text-anchor="start"><tspan>Pam</tspan><tspan font-size="6.18" dy="2.9">3</tspan><tspan dy="-2.9">CSK</tspan><tspan font-size="6.18" dy="2.9">4</tspan></text>
<text x="466.53" y="402" font-size="10.65" text-anchor="start"><tspan>Pam</tspan><tspan font-size="6.18" dy="2.9">3</tspan><tspan dy="-2.9">CSK</tspan><tspan font-size="6.18" dy="2.9">4</tspan></text>
<text x="10.8" y="429.6" font-size="14" text-anchor="start" font-weight="bold" font-style="normal">E</text>
<rect x="76.4" y="537.13" width="6.8" height="1.87" fill="#000"/>
<rect x="83.2" y="538.18" width="6.8" height="0.82" fill="#444"/>
<rect x="90" y="537.8" width="6.8" height="1.2" fill="#222"/>
<rect x="96.8" y="536.93" width="6.8" height="2.07" fill="#222"/>
<rect x="104" y="495.42" width="6.8" height="43.58" fill="#000"/>
<line x1="107.4" y1="495.42" x2="107.4" y2="490.54" stroke="#000" stroke-width="1"/>
<line x1="105.1" y1="490.74" x2="109.7" y2="490.74" stroke="#000" stroke-width="1.2"/>
<rect x="111.35" y="519.36" width="5.7" height="19.29" fill="#707070" stroke="#000" stroke-width="1.1"/>
<rect x="117.6" y="537.8" width="6.8" height="1.2" fill="#222"/>
<rect x="124.4" y="537.8" width="6.8" height="1.2" fill="#222"/>
<rect x="136.8" y="499.61" width="6.8" height="39.39" fill="#000"/>
<line x1="140.2" y1="499.61" x2="140.2" y2="493.33" stroke="#000" stroke-width="1"/>
<line x1="137.9" y1="493.53" x2="142.5" y2="493.53" stroke="#000" stroke-width="1.2"/>
<rect x="144.15" y="532.97" width="5.7" height="5.68" fill="#707070" stroke="#000" stroke-width="1.1"/>
<rect x="150.4" y="537.8" width="6.8" height="1.2" fill="#222"/>
<rect x="157.2" y="537.8" width="6.8" height="1.2" fill="#222"/>
<rect x="170.4" y="466.11" width="6.8" height="72.89" fill="#000"/>
<line x1="173.8" y1="466.11" x2="173.8" y2="457.38" stroke="#000" stroke-width="1"/>
<line x1="171.5" y1="457.58" x2="176.1" y2="457.58" stroke="#000" stroke-width="1.2"/>
<rect x="177.75" y="500.16" width="5.7" height="38.49" fill="#707070" stroke="#000" stroke-width="1.1"/>
<line x1="180.6" y1="499.61" x2="180.6" y2="497.52" stroke="#000" stroke-width="1"/>
<line x1="178.3" y1="497.72" x2="182.9" y2="497.72" stroke="#000" stroke-width="1.2"/>
<rect x="184" y="537.28" width="6.8" height="1.72" fill="#222"/>
<rect x="190.8" y="537.8" width="6.8" height="1.2" fill="#222"/>
<rect x="206.2" y="442.03" width="6.8" height="96.97" fill="#000"/>
<line x1="209.6" y1="442.03" x2="209.6" y2="435.75" stroke="#000" stroke-width="1"/>
<line x1="207.3" y1="435.94" x2="211.9" y2="435.94" stroke="#000" stroke-width="1.2"/>
<rect x="213.55" y="496.32" width="5.7" height="42.33" fill="#707070" stroke="#000" stroke-width="1.1"/>
<line x1="216.4" y1="495.77" x2="216.4" y2="494.38" stroke="#000" stroke-width="1"/>
<line x1="214.1" y1="494.58" x2="218.7" y2="494.58" stroke="#000" stroke-width="1.2"/>
<rect x="219.8" y="537.8" width="6.8" height="1.2" fill="#222"/>
<rect x="226.6" y="537.8" width="6.8" height="1.2" fill="#222"/>
<rect x="75.3" y="434" width="162.2" height="104.7" fill="none" stroke="#000" stroke-width="1.45"/>
<line x1="70.9" y1="434" x2="75.3" y2="434" stroke="#000" stroke-width="1.45"/>
<text x="56.81" y="438.38" font-size="10.8" text-anchor="start" font-weight="normal" font-style="normal">30</text>
<line x1="70.9" y1="468.9" x2="75.3" y2="468.9" stroke="#000" stroke-width="1.45"/>
<text x="56.81" y="473.48" font-size="10.8" text-anchor="start" font-weight="normal" font-style="normal">20</text>
<line x1="70.9" y1="503.8" x2="75.3" y2="503.8" stroke="#000" stroke-width="1.45"/>
<path d="M59.52 507.88 L59.52 501.36 L57.85 502.55 L57.85 501.66 L59.6 500.45 L60.48 500.45 L60.48 507.88 Z" fill="#000" stroke="#000" stroke-width="0.22"/>
<text x="62.82" y="507.88" font-size="10.8" text-anchor="start" font-weight="normal" font-style="normal">0</text>
<line x1="70.9" y1="538.7" x2="75.3" y2="538.7" stroke="#000" stroke-width="1.45"/>
<text x="62.82" y="542.38" font-size="10.8" text-anchor="start" font-weight="normal" font-style="normal">0</text>
<text x="40.6" y="488.0" font-size="10.6" text-anchor="middle" transform="rotate(-90 40.6 488.0)">Proliferation (cpm x 10<tspan font-size="6.4" dy="-3.6">-3</tspan><tspan dy="3.6">)</tspan></text>
<text x="97.4" y="550.9" font-size="10.4" text-anchor="end" font-weight="normal" font-style="normal" transform="rotate(-32 97.4 550.9)">Medium</text>
<text x="120" y="550.8" font-size="10.8" text-anchor="end" font-weight="normal" font-style="normal" transform="rotate(-32 120 550.8)">LPS</text>
<text x="157.2" y="550.9" font-size="10.6" text-anchor="end" transform="rotate(-32 157.2 550.9)"><tspan>Pam</tspan><tspan font-size="6.15" dy="2.9">3</tspan><tspan dy="-2.9">CSK</tspan><tspan font-size="6.15" dy="2.9">4</tspan></text>
<text x="187.2" y="551.2" font-size="10.8" text-anchor="end" font-weight="normal" font-style="normal" transform="rotate(-32 187.2 551.2)">CpG</text>
<text x="226" y="551.2" font-size="10.5" text-anchor="end" font-weight="normal" font-style="italic" transform="rotate(-32 226 551.2)">E. coli</text>
<text x="241.7" y="450.8" font-size="10.5" text-anchor="start" font-weight="normal" font-style="normal">nM TSA</text>
<rect x="242" y="464.1" width="10.9" height="10.9" fill="#000"/>
<text x="257.19" y="474.3" font-size="10.4" text-anchor="start" font-weight="normal" font-style="normal">0</text>
<rect x="242.6" y="486.9" width="9.7" height="9.7" fill="#707070" stroke="#000" stroke-width="1.2"/>
<text x="257.46" y="496.2" font-size="10.4" text-anchor="start" font-weight="normal" font-style="normal">4</text>
<rect x="242.6" y="506.8" width="9.7" height="9.4" fill="#fff" stroke="#000" stroke-width="1.2"/>
<text x="257.18" y="515.7" font-size="10.4" text-anchor="start" font-weight="normal" font-style="normal">20</text>
<clipPath id="hc"><rect x="242" y="525.5" width="10.9" height="10.6"/></clipPath>
<g clip-path="url(#hc)" stroke="#000" stroke-width="2.1"><line x1="223.2" y1="538.1" x2="237.8" y2="523.5"/><line x1="228.8" y1="538.1" x2="243.4" y2="523.5"/><line x1="234.4" y1="538.1" x2="249" y2="523.5"/><line x1="240" y1="538.1" x2="254.6" y2="523.5"/><line x1="245.6" y1="538.1" x2="260.2" y2="523.5"/><line x1="251.2" y1="538.1" x2="265.8" y2="523.5"/><line x1="256.8" y1="538.1" x2="271.4" y2="523.5"/></g>
<rect x="242.6" y="526.1" width="9.7" height="9.4" fill="none" stroke="#000" stroke-width="1.2"/>
<path d="M259.71 535.1 L259.71 528.82 L258.1 529.97 L258.1 529.11 L259.79 527.94 L260.63 527.94 L260.63 535.1 Z" fill="#000" stroke="#000" stroke-width="0.22"/>
<text x="262.88" y="535.1" font-size="10.4" text-anchor="start" font-weight="normal" font-style="normal">00</text>
<text x="300.9" y="430.9" font-size="14" text-anchor="start" font-weight="bold" font-style="normal">F</text>
<rect x="358.4" y="537.78" width="9.7" height="0.82" fill="#000"/>
<rect x="371.4" y="537.78" width="9.5" height="0.82" fill="#000"/>
<rect x="385.2" y="516.14" width="9.7" height="22.46" fill="#000"/>
<rect x="398.2" y="537.78" width="9.5" height="0.82" fill="#000"/>
<rect x="412.1" y="455.29" width="9.7" height="83.31" fill="#000"/>
<rect x="425.1" y="537.78" width="9.5" height="0.82" fill="#000"/>
<rect x="438.8" y="519.53" width="9.7" height="19.07" fill="#000"/>
<rect x="451.8" y="537.78" width="9.5" height="0.82" fill="#000"/>
<rect x="465.1" y="443.21" width="9.7" height="95.39" fill="#000"/>
<rect x="478.1" y="537.78" width="9.5" height="0.82" fill="#000"/>
<rect x="492" y="498.32" width="9.7" height="40.28" fill="#000"/>
<rect x="505" y="537.78" width="9.5" height="0.82" fill="#000"/>
<rect x="355.8" y="434" width="158.5" height="104.3" fill="none" stroke="#000" stroke-width="1.45"/>
<line x1="351.4" y1="434" x2="355.8" y2="434" stroke="#000" stroke-width="1.45"/>
<path d="M335.55 439.08 L335.55 432.56 L333.87 433.75 L333.87 432.86 L335.62 431.65 L336.5 431.65 L336.5 439.08 Z" fill="#000" stroke="#000" stroke-width="0.22"/>
<text x="338.84" y="439.08" font-size="10.8" text-anchor="start" font-weight="normal" font-style="normal">.2</text>
<line x1="351.4" y1="468.77" x2="355.8" y2="468.77" stroke="#000" stroke-width="1.45"/>
<text x="332.76" y="474.28" font-size="10.8" text-anchor="start" font-weight="normal" font-style="normal">0.8</text>
<line x1="351.4" y1="503.53" x2="355.8" y2="503.53" stroke="#000" stroke-width="1.45"/>
<text x="332.6" y="509.38" font-size="10.8" text-anchor="start" font-weight="normal" font-style="normal">0.4</text>
<line x1="351.4" y1="538.3" x2="355.8" y2="538.3" stroke="#000" stroke-width="1.45"/>
<text x="341.72" y="543.28" font-size="10.8" text-anchor="start" font-weight="normal" font-style="normal">0</text>
<text x="320.2" y="516.38" font-size="10.6" transform="rotate(-90 320.2 516.38)">IFN&#947; (ng/ml)</text>
<text x="292.77" y="553" font-size="10.44" text-anchor="start" font-weight="normal" font-style="normal">TSA (20 nM)</text>
<rect x="363.25" y="547.9" width="2" height="1.1" fill="#000"/>
<text x="371.97" y="551.6" font-size="10.4" text-anchor="start" font-weight="normal" font-style="normal">+</text>
<line x1="358.1" y1="555.3" x2="378.8" y2="555.3" stroke="#000" stroke-width="1.2"/>
<rect x="389.75" y="547.9" width="2" height="1.1" fill="#000"/>
<text x="399.27" y="551.6" font-size="10.4" text-anchor="start" font-weight="normal" font-style="normal">+</text>
<line x1="384.2" y1="555.3" x2="405.8" y2="555.3" stroke="#000" stroke-width="1.2"/>
<rect x="416.45" y="547.9" width="2" height="1.1" fill="#000"/>
<text x="426.17" y="551.6" font-size="10.4" text-anchor="start" font-weight="normal" font-style="normal">+</text>
<line x1="411.2" y1="555.3" x2="432.7" y2="555.3" stroke="#000" stroke-width="1.2"/>
<rect x="440.55" y="547.9" width="2" height="1.1" fill="#000"/>
<text x="449.27" y="551.6" font-size="10.4" text-anchor="start" font-weight="normal" font-style="normal">+</text>
<line x1="438.1" y1="555.3" x2="458.1" y2="555.3" stroke="#000" stroke-width="1.2"/>
<rect x="469" y="547.9" width="2" height="1.1" fill="#000"/>
<text x="478.47" y="551.6" font-size="10.4" text-anchor="start" font-weight="normal" font-style="normal">+</text>
<line x1="465" y1="555.3" x2="485.8" y2="555.3" stroke="#000" stroke-width="1.2"/>
<rect x="496.65" y="547.9" width="2" height="1.1" fill="#000"/>
<text x="506.17" y="551.6" font-size="10.4" text-anchor="start" font-weight="normal" font-style="normal">+</text>
<line x1="491.9" y1="555.3" x2="512.7" y2="555.3" stroke="#000" stroke-width="1.2"/>
<text x="381" y="562.4" font-size="10.8" text-anchor="end" font-weight="normal" font-style="normal" transform="rotate(-34 381 562.4)">Medium</text>
<text x="407.8" y="562.6" font-size="10.8" text-anchor="end" font-weight="normal" font-style="normal" transform="rotate(-34 407.8 562.6)">SEB (1 &#956;g/ml)</text>
<text x="434.4" y="562.6" font-size="10.8" text-anchor="end" font-weight="normal" font-style="normal" transform="rotate(-34 434.4 562.6)">SEB (5 &#956;g/ml)</text>
<text x="461.2" y="562.6" font-size="10.8" text-anchor="end" font-weight="normal" font-style="normal" transform="rotate(-34 461.2 562.6)">TSST-1 (0.4 &#956;g/ml)</text>
<text x="484.4" y="562.4" font-size="10.8" text-anchor="end" font-weight="normal" font-style="normal" transform="rotate(-34 484.4 562.4)">TSST-1 (2 &#956;g/ml)</text>
<text x="513.8" y="562.9" font-size="10.8" text-anchor="end" font-weight="normal" font-style="normal" transform="rotate(-34 513.8 562.9)">Concanavallin A</text>
</svg>
</body></html>
